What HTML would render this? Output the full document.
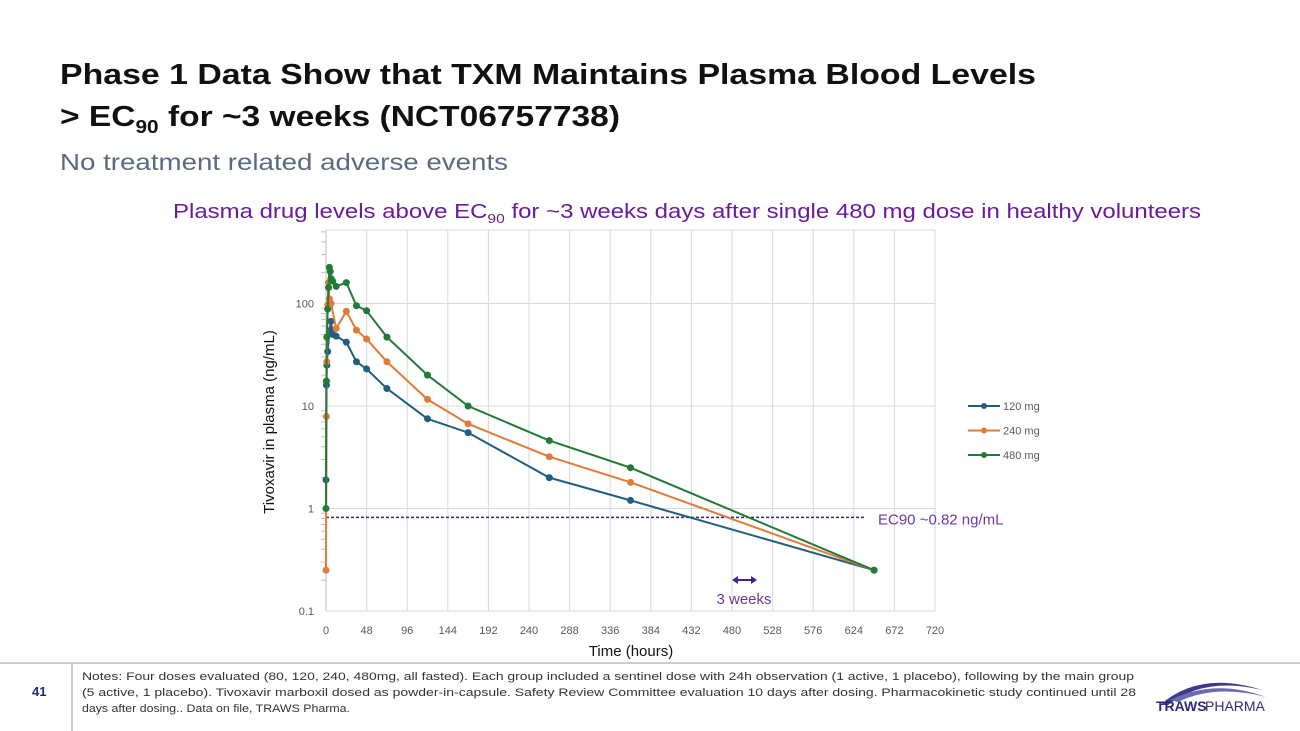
<!DOCTYPE html>
<html><head><meta charset="utf-8"><style>
body{margin:0;background:#fff;}
svg{display:block;font-family:"Liberation Sans",sans-serif;}
</style></head><body>
<svg id="s" width="1300" height="731" viewBox="0 0 1300 731">
<text x="60" y="84" font-size="29" font-weight="bold" fill="#111" textLength="976" lengthAdjust="spacingAndGlyphs">Phase 1 Data Show that TXM Maintains Plasma Blood Levels</text>
<text x="60" y="126" font-size="29" font-weight="bold" fill="#111" textLength="560" lengthAdjust="spacingAndGlyphs">&gt; EC<tspan font-size="18" dy="7">90</tspan><tspan dy="-7"> for ~3 weeks (NCT06757738)</tspan></text>
<text x="60" y="170" font-size="23" fill="#5a6a80" textLength="448" lengthAdjust="spacingAndGlyphs">No treatment related adverse events</text>
<text x="173" y="218" font-size="20" fill="#6a1b9a" textLength="1028" lengthAdjust="spacingAndGlyphs">Plasma drug levels above EC<tspan font-size="13" dy="5">90</tspan><tspan dy="-5"> for ~3 weeks days after single 480 mg dose in healthy volunteers</tspan></text>
<g id="chart"></g>
<line x1="0" y1="663" x2="1300" y2="663" stroke="#bbb" stroke-width="1.5"/>
<line x1="72" y1="663" x2="72" y2="731" stroke="#bbb" stroke-width="1.5"/>
<text x="32" y="696" font-size="13" font-weight="bold" fill="#1f2a7a">41</text>
<g font-size="11" fill="#333">
<text x="82" y="680" textLength="1052" lengthAdjust="spacingAndGlyphs">Notes: Four doses evaluated (80, 120, 240, 480mg, all fasted). Each group included a sentinel dose with 24h observation (1 active, 1 placebo), following by the main group</text>
<text x="82" y="696" textLength="1054" lengthAdjust="spacingAndGlyphs">(5 active, 1 placebo). Tivoxavir marboxil dosed as powder-in-capsule. Safety Review Committee evaluation 10 days after dosing. Pharmacokinetic study continued until 28</text>
<text x="82" y="712" textLength="268" lengthAdjust="spacingAndGlyphs">days after dosing.. Data on file, TRAWS Pharma.</text>
</g>
<g>
<path d="M1160 705 Q1200 670 1262 690 Q1205 676 1168 705Z" fill="#3d3a8a"/>
<path d="M1170 700 Q1215 678 1266 697 Q1215 684 1178 702Z" fill="#6d6ab0"/>
<text x="1156" y="711" font-size="14" font-weight="bold" fill="#2e2a7a">TRAWS</text>
<text x="1205" y="711" font-size="14" fill="#2e2a7a">PHARMA</text>
</g>
</svg>
<script>
const xTicks=[0,48,96,144,192,240,288,336,384,432,480,528,576,624,672,720];
const yTicks=[0.1,1,10,100];
const seriesNames=["120 mg","240 mg","480 mg"];
const t120=[0,0.5,1,2,4,6,8,12,24,36,48,72,120,168,264,360,648];
const v120=[1.9,16,25,34,54,67,50,48,42,27,23,14.8,7.5,5.5,2.0,1.2,0.25];
const t240=[0,0.5,1,2,3,4,6,12,24,36,48,72,120,168,264,360,648];
const v240=[0.25,7.9,27,97,160,111,100,57,84,55,45,27,11.6,6.7,3.2,1.8,0.25];
const t480=[0,0.5,1,2,3,4,5,6,8,12,24,36,48,72,120,168,264,360,648];
const v480=[1.0,17.5,47,88,143,225,205,175,165,147,160,95,85,47,20,10,4.6,2.5,0.25];
const ec90=0.82;
const colors=["#1f5f7f","#e07b39","#217a35"];

const NS="http://www.w3.org/2000/svg";
const g=document.getElementById('chart');
const X0=326,X1=935,YT=230,YB=611;
const yDec=102.5;
const sx=t=>X0+(t/720)*(X1-X0);
const sy=v=>YB-(Math.log10(v)+1)*yDec;
function el(tag,attrs,parent){const e=document.createElementNS(NS,tag);for(const k in attrs)e.setAttribute(k,attrs[k]);(parent||g).appendChild(e);return e;}

for(const t of xTicks){
  const l=el('line',{x1:sx(t),x2:sx(t),y1:YT,y2:YB,stroke:'#d9d9d9'});
  
  
  const tx=el('text',{x:sx(t),y:YB+23,'text-anchor':'middle','font-size':11,fill:'#595959'});
  tx.textContent=t;
  
  
}
el('line',{x1:X0,x2:X1,y1:YT,y2:YT,stroke:'#d9d9d9'});
for(const v of yTicks){
  const l=el('line',{x1:X0,x2:X1,y1:sy(v),y2:sy(v),stroke:'#d9d9d9'});
  
  
  const tx=el('text',{x:X0-12,y:sy(v)+4,'text-anchor':'end','font-size':11,fill:'#595959'});
  tx.textContent=v;
  
  
  for(let m=2;m<=9;m++){const yy=sy(v*m);if(yy<YT)break;el('line',{x1:X0-5,x2:X0,y1:yy,y2:yy,stroke:'#bfbfbf'});}
}
el('line',{x1:X0,x2:X0,y1:YT,y2:YB,stroke:'#bfbfbf'});

const ecl=el('line',{x1:X0,x2:865,y1:sy(ec90),y2:sy(ec90),stroke:'#3b1f8a','stroke-width':1.5,'stroke-dasharray':'3,2'});


const ect=el('text',{x:878,y:sy(ec90)+7,'font-size':15,fill:'#6a3aa0'});
ect.textContent='EC90 ~0.82 ng/mL';



const data=[[t120,v120],[t240,v240],[t480,v480]];
data.forEach((d,i)=>{
  const pts=d[0].map((t,j)=>sx(t)+','+sy(d[1][j])).join(' ');
  const pl=el('polyline',{points:pts,fill:'none',stroke:colors[i],'stroke-width':2});
  
  
  d[0].forEach((t,j)=>{
    const c=el('circle',{cx:sx(t),cy:sy(d[1][j]),r:3.5,fill:colors[i]});
    
    
  });
  const ly=406+i*24.5;
  const ll=el('line',{x1:968,x2:1000,y1:ly,y2:ly,stroke:colors[i],'stroke-width':2});
  
  
  el('circle',{cx:984,cy:ly,r:3,fill:colors[i]});
  const lt=el('text',{x:1003,y:ly+4,'font-size':11,fill:'#595959'});
  lt.textContent=seriesNames[i];
  
  
});

const yt=el('text',{x:0,y:0,'font-size':15,fill:'#111','text-anchor':'middle',transform:'translate(274,422) rotate(-90)'});
yt.textContent='Tivoxavir in plasma (ng/mL)';


const xt=el('text',{x:631,y:656,'font-size':15,fill:'#111','text-anchor':'middle'});
xt.textContent='Time (hours)';



const ar=el('g',{});


el('line',{x1:735,x2:754,y1:580,y2:580,stroke:'#4b1f8a','stroke-width':2},ar);
el('path',{d:'M732 580 L738 576 L738 584Z M757 580 L751 576 L751 584Z',fill:'#4b1f8a'},ar);
const aw=el('text',{x:744,y:604,'font-size':15,fill:'#6a3aa0','text-anchor':'middle'});
aw.textContent='3 weeks';


</script>
</body></html>
